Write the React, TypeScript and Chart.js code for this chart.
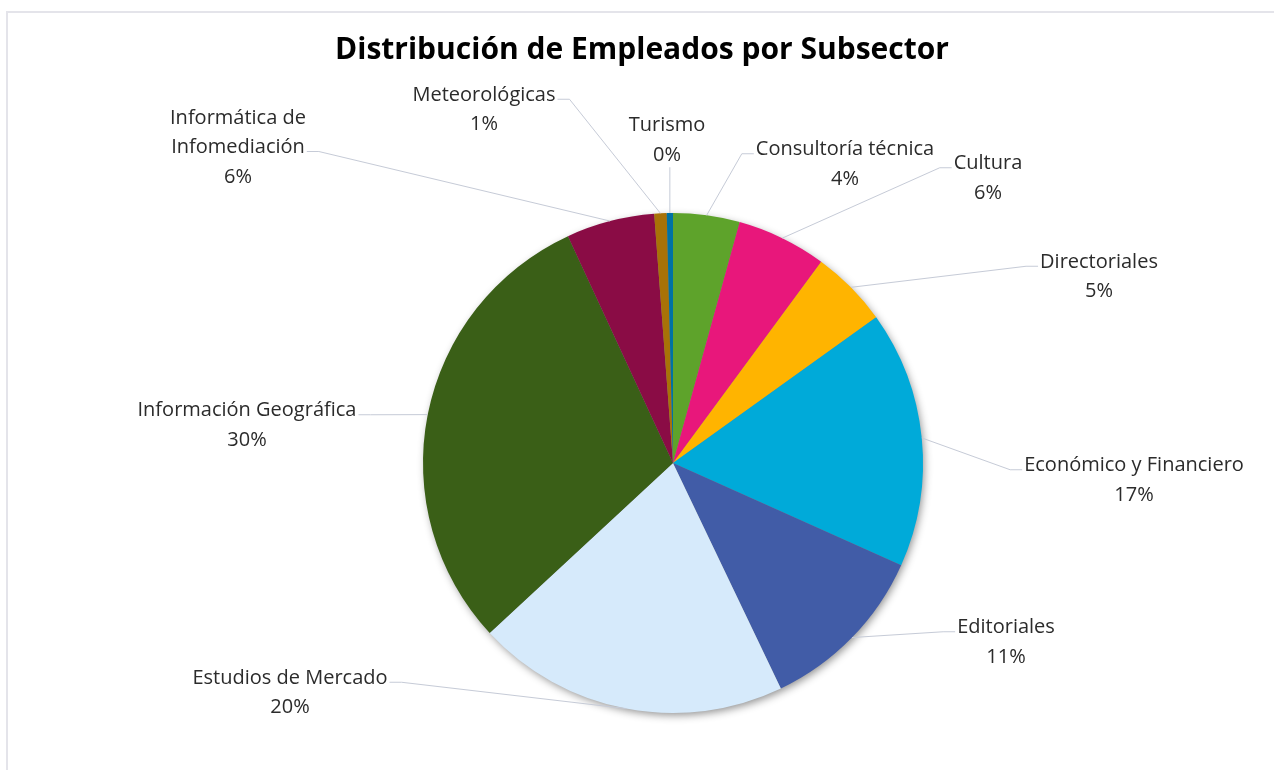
import React, { useEffect, useRef } from "react";
import { Chart, registerables } from "chart.js";

Chart.register(...registerables);

const chartTitle = "Distribución de Empleados por Subsector";

const categories = [
  "Consultoría técnica",
  "Cultura",
  "Directoriales",
  "Económico y Financiero",
  "Editoriales",
  "Estudios de Mercado",
  "Información Geográfica",
  "Informática de Infomediación",
  "Meteorológicas",
  "Turismo",
];

// share of employees (%) per subsector
const employeeShare = [4.3, 5.8, 5.0, 16.6, 11.2, 20.2, 30.0, 5.7, 0.8, 0.4];

// how each category label is broken into lines
const labelText = [
  ["Consultoría técnica"],
  ["Cultura"],
  ["Directoriales"],
  ["Económico y Financiero"],
  ["Editoriales"],
  ["Estudios de Mercado"],
  ["Información Geográfica"],
  ["Informática de", "Infomediación"],
  ["Meteorológicas"],
  ["Turismo"],
];

const sliceColors = [
  "#5EA32B",
  "#E8177B",
  "#FFB400",
  "#00AAD9",
  "#415CA7",
  "#D6EAFB",
  "#3A5F17",
  "#8A0C45",
  "#A87207",
  "#0072A3",
];

// label block centre relative to pie centre, in units of the radius;
// side = where the leader line meets the text
const labelLayout = [
  { dx: 0.688, dy: -1.194, side: "left", line: 0 },
  { dx: 1.26, dy: -1.138, side: "left", line: 0 },
  { dx: 1.704, dy: -0.744, side: "left", line: 0 },
  { dx: 1.844, dy: 0.07, side: "left", line: 0 },
  { dx: 1.332, dy: 0.718, side: "left", line: 0 },
  { dx: -1.532, dy: 0.92, side: "right", line: 0 },
  { dx: -1.704, dy: -0.15, side: "right", line: 0 },
  { dx: -1.74, dy: -1.262, side: "right", line: 1 },
  { dx: -0.756, dy: -1.412, side: "right", line: 0 },
  { dx: -0.024, dy: -1.29, side: "bottom", line: 0 },
];

const LABEL_FONT = '20px "Open Sans", "Noto Sans", sans-serif';
const TITLE_FONT = 'bold 30px "Open Sans", "Noto Sans", sans-serif';
const LINE_H = 29.5;

const framePlugin = {
  id: "frame",
  beforeDraw(chart: any) {
    const ctx = chart.ctx;
    ctx.save();
    ctx.fillStyle = "#ffffff";
    ctx.fillRect(0, 0, chart.width, chart.height);
    ctx.strokeStyle = "#E4E4EA";
    ctx.lineWidth = 2;
    ctx.beginPath();
    ctx.moveTo(7, chart.height);
    ctx.lineTo(7, 12);
    ctx.lineTo(chart.width, 12);
    ctx.stroke();
    ctx.fillStyle = "#000000";
    ctx.font = TITLE_FONT;
    ctx.textAlign = "center";
    ctx.textBaseline = "middle";
    ctx.fillText(chartTitle, 642, 50);
    ctx.restore();
  },
};

const shadowPlugin = {
  id: "pieShadow",
  beforeDatasetsDraw(chart: any) {
    const arc = chart.getDatasetMeta(0).data[0];
    if (!arc) return;
    const { x, y, outerRadius } = arc.getProps(["x", "y", "outerRadius"], true);
    const ctx = chart.ctx;
    ctx.save();
    ctx.shadowColor = "rgba(0,0,0,0.45)";
    ctx.shadowBlur = 8;
    ctx.shadowOffsetX = 2;
    ctx.shadowOffsetY = 3;
    ctx.fillStyle = "#888888";
    ctx.beginPath();
    ctx.arc(x, y, outerRadius - 1, 0, Math.PI * 2);
    ctx.fill();
    ctx.restore();
  },
};

const labelPlugin = {
  id: "outsideLabels",
  afterDatasetsDraw(chart: any) {
    const ctx = chart.ctx;
    const meta = chart.getDatasetMeta(0);
    const values: number[] = chart.data.datasets[0].data;
    const total = values.reduce((a, b) => a + b, 0);
    ctx.save();
    ctx.font = LABEL_FONT;
    ctx.textAlign = "center";
    ctx.textBaseline = "middle";
    meta.data.forEach((arc: any, i: number) => {
      const { x, y, startAngle, endAngle, outerRadius } = arc.getProps(
        ["x", "y", "startAngle", "endAngle", "outerRadius"],
        true
      );
      const R = outerRadius;
      const mid = (startAngle + endAngle) / 2;
      const ex = x + Math.cos(mid) * R;
      const ey = y + Math.sin(mid) * R;
      const lay = labelLayout[i];
      const cx = x + lay.dx * R;
      const cy = y + lay.dy * R;
      const lines = [...labelText[i], Math.round((values[i] / total) * 100) + "%"];
      const y0 = cy - ((lines.length - 1) * LINE_H) / 2;

      // leader line
      ctx.strokeStyle = "#C6CBD7";
      ctx.lineWidth = 1;
      ctx.beginPath();
      if (lay.side === "bottom") {
        const by = y0 + (lines.length - 1) * LINE_H + 12;
        ctx.moveTo(ex, by);
        ctx.lineTo(ex, ey);
      } else {
        const ly = y0 + lay.line * LINE_H + 4;
        const w = ctx.measureText(lines[lay.line]).width;
        const ax = lay.side === "left" ? cx - w / 2 - 2 : cx + w / 2 + 2;
        const bx = lay.side === "left" ? ax - 12 : ax + 12;
        ctx.moveTo(ax, ly);
        ctx.lineTo(bx, ly);
        ctx.lineTo(ex, ey);
      }
      ctx.stroke();

      ctx.fillStyle = "#2B2B2B";
      lines.forEach((t, k) => ctx.fillText(t, cx, y0 + k * LINE_H));
    });
    ctx.restore();
  },
};

export default function App() {
  const ref = useRef<HTMLCanvasElement | null>(null);
  useEffect(() => {
    if (!ref.current) return;
    const chart = new Chart(ref.current, {
      type: "pie",
      data: {
        labels: categories,
        datasets: [
          {
            data: employeeShare,
            backgroundColor: sliceColors,
            borderWidth: 0,
          },
        ],
      },
      options: {
        responsive: false,
        animation: false,
        devicePixelRatio: 1,
        layout: { padding: { top: 213, bottom: 57, left: 423, right: 351 } },
        plugins: {
          legend: { display: false },
          title: { display: false },
          tooltip: { enabled: false },
        },
      },
      plugins: [framePlugin, shadowPlugin, labelPlugin],
    });
    return () => chart.destroy();
  }, []);
  return (
    <div style={{ position: "fixed", left: 0, top: 0, width: 1274, height: 770, overflow: "hidden" }}>
      <canvas ref={ref} width={1274} height={770} style={{ display: "block" }} />
    </div>
  );
}
